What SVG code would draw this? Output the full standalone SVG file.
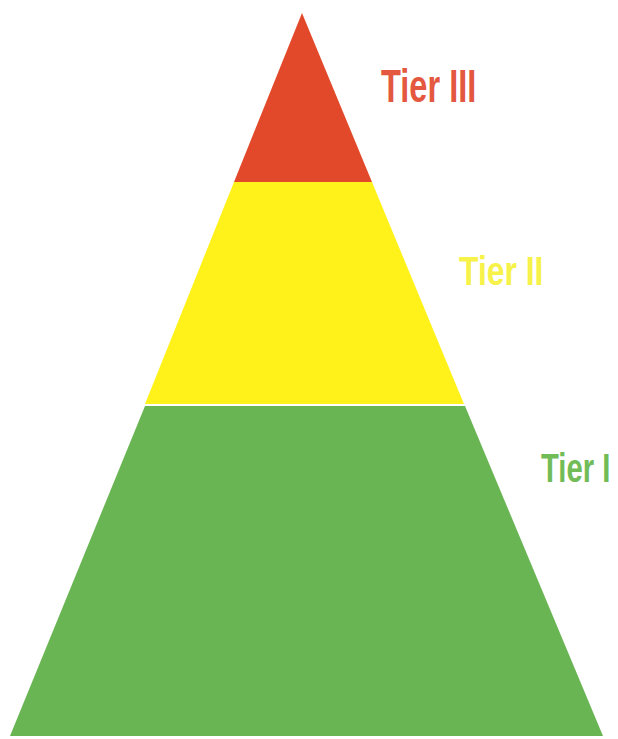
<svg xmlns="http://www.w3.org/2000/svg" width="618" height="739" viewBox="0 0 618 739">
<style>
.lbl{font-family:"Liberation Sans",Arial,sans-serif;font-weight:bold}
</style>
<rect width="618" height="739" fill="#ffffff"/>
<g id="tier3">
<polygon points="302,13 372,182 234,182" fill="#e2492b"/>
<text class="lbl" transform="translate(381,102) scale(0.708,1)" x="0" y="0" font-size="46" fill="#e4583f">Tier III</text>
</g>
<g id="tier2">
<polygon points="234,182 372,182 464,404 145,404" fill="#fff21a"/>
<text class="lbl" transform="translate(459,285) scale(0.797,1)" x="0" y="0" font-size="40" fill="#f6f24a">Tier II</text>
</g>
<g id="tier1">
<polygon points="145,406 465,406 603,736 10,736" fill="#6ab553"/>
<text class="lbl" transform="translate(541,482) scale(0.714,1)" x="0" y="0" font-size="41" fill="#72bc58">Tier I</text>
</g>
<g id="connectors"/>
</svg>
